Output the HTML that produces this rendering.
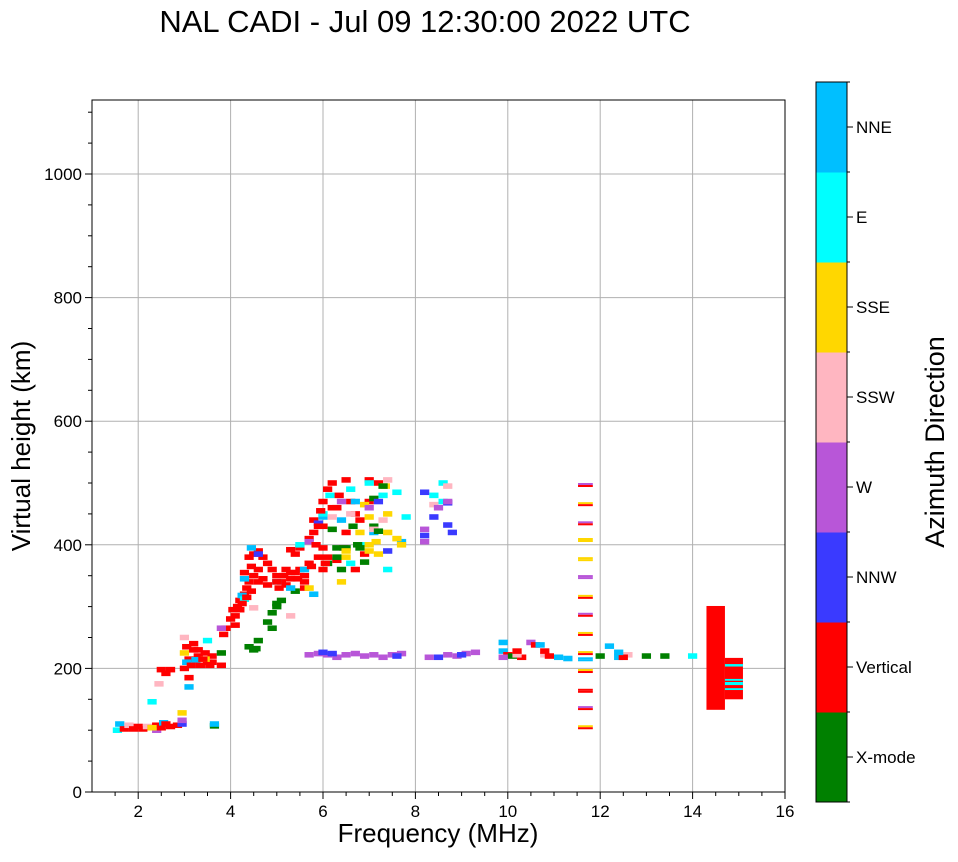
<!DOCTYPE html>
<html><head><meta charset="utf-8"><style>
body{margin:0;background:#fff;}
svg text{font-family:"Liberation Sans","DejaVu Sans",sans-serif;fill:#000;}
</style></head><body>
<svg id="chart" width="958" height="857" viewBox="0 0 958 857" xmlns="http://www.w3.org/2000/svg">
<text x="425" y="32" font-size="31" text-anchor="middle">NAL CADI - Jul 09 12:30:00 2022 UTC</text>
<g id="grid"></g>
<g id="marks"></g>
<rect x="92" y="100" width="693" height="692" fill="none" stroke="#000" stroke-width="1"/>
<g id="axes"></g>
<text x="438" y="842" font-size="26" text-anchor="middle">Frequency (MHz)</text>
<text transform="translate(30,446) rotate(-90)" font-size="26" text-anchor="middle">Virtual height (km)</text>
<g id="cbar"></g>
<text transform="translate(944,442) rotate(-90)" font-size="27" text-anchor="middle">Azimuth Direction</text>
</svg>
<script>
const categories=["X-mode","Vertical","NNW","W","SSW","SSE","E","NNE"];
const catColors=["#008000","#ff0000","#3a3aff","#b856d8","#ffb6c1","#ffd700","#00ffff","#00bfff"];
const xTicks=[2,4,6,8,10,12,14,16];
const yTicks=[0,200,400,600,800,1000];
// scattered echoes: frequency (MHz), height (km), category index
const freqs=[1.55,1.6,1.7,1.8,1.9,2.0,2.1,2.2,2.3,2.3,2.4,2.4,2.5,2.55,2.6,2.7,2.85,2.95,2.95,2.95,2.3,3.65,3.65,
2.5,2.7,2.6,3.0,3.1,3.1,3.3,3.45,3.5,3.2,3.35,3.6,3.6,3.05,3.2,3.8,3.05,3.25,3.1,2.45,3.0,3.5,3.0,3.45,
3.8,4.4,4.55,4.6,4.8,4.9,5.0,5.1,4.9,5.4,
3.85,3.9,4.0,4.05,4.15,4.2,4.3,4.35,4.4,4.3,4.45,4.4,4.5,4.6,4.7,4.8,4.9,5.0,5.1,5.2,5.3,5.4,5.5,5.6,5.2,5.4,5.5,5.3,5.7,5.8,5.9,6.0,6.0,6.0,5.8,6.0,6.1,6.2,6.3,6.35,6.5,6.6,6.7,6.8,7.0,7.2,7.0,6.5,6.45,6.9,6.3,6.7,4.1,4.8,4.6,5.05,5.6,
4.45,4.3,4.25,5.6,5.3,5.8,6.0,6.4,7.1,6.7,5.0,7.7,
4.3,5.5,6.15,6.0,6.6,7.3,7.0,6.9,7.6,7.4,6.6,7.8,8.6,8.4,8.6,
5.7,6.5,6.8,6.9,7.0,7.15,7.2,7.4,7.4,7.7,7.35,7.0,6.4,
6.1,6.3,6.4,6.75,6.65,6.9,7.1,7.3,6.5,6.2,7.1,4.5,
4.5,5.3,6.6,7.4,7.1,7.3,8.4,8.7,6.2,
8.2,8.2,8.4,8.7,8.7,8.8,7.4,5.9,7.2,4.6,
8.2,8.2,8.5,8.7,6.4,7.0,3.8,5.7,
5.7,5.9,6.1,6.3,6.5,6.7,6.9,7.1,7.3,7.5,7.7,8.3,8.7,8.9,9.1,9.3,6.0,6.2,7.6,8.5,9.0,
9.9,9.9,10.0,10.1,10.3,10.5,10.6,10.8,10.9,11.1,11.3,10.7,10.8,9.9,10.2,10.2,12.0,12.2,12.4,12.6,12.5,13.0,13.4,12.4,14.0,
3.3,3.4,3.15,3.55,4.1,4.2,4.25,4.5,4.6,4.7,5.0,5.15,5.3,5.45,5.7,5.75,5.6,5.9,5.85,6.1,6.05,6.2,5.95,4.35,4.45,
5.0,6.3,6.8,7.2,7.6,7.0,6.5];
const heights=[100,110,102,108,102,106,102,106,104,146,108,100,104,112,110,106,108,110,116,128,104,107,110,
198,198,192,200,185,215,220,225,210,230,205,210,220,235,240,205,210,214,170,175,250,245,225,215,
225,235,232,245,275,290,305,310,265,325,
255,265,280,295,300,310,320,330,340,355,365,380,385,390,380,370,360,350,340,335,345,355,360,350,360,385,395,392,410,420,380,360,395,430,440,470,490,500,460,480,505,470,450,440,505,500,470,420,395,385,375,360,270,335,340,330,330,
395,345,318,360,330,320,445,440,420,470,340,405,
312,400,480,450,490,480,500,400,485,360,370,445,500,480,470,
330,380,420,465,445,405,385,450,420,400,495,390,340,
370,380,360,400,430,372,430,495,395,425,475,230,
298,285,450,505,425,440,465,495,445,
485,415,445,468,432,420,390,435,470,385,
425,405,460,470,470,460,265,405,
222,224,222,218,222,224,220,222,218,222,224,218,222,220,224,226,226,224,220,218,222,
242,228,222,220,218,242,238,222,220,218,216,238,228,218,222,228,220,236,218,222,218,220,220,226,220,
230,215,205,205,285,295,305,350,360,345,340,350,355,345,370,365,340,430,400,380,370,460,455,315,325,
300,395,395,422,410,400,390];
const cats=[6,7,1,4,1,1,1,4,1,6,1,3,1,7,1,1,1,2,3,5,5,0,7,
1,1,1,1,1,1,1,1,1,1,1,1,1,1,1,1,7,7,7,4,4,6,5,5,
0,0,0,0,0,0,0,0,0,0,
1,1,1,1,1,1,1,1,1,1,1,1,1,1,1,1,1,1,1,1,1,1,1,1,1,1,1,1,1,1,1,1,1,1,1,1,1,1,1,1,1,1,1,1,1,1,1,1,1,1,1,1,1,1,1,1,1,
7,7,7,7,7,7,7,7,7,7,7,7,
6,6,6,6,6,6,6,6,6,6,6,6,6,6,6,
5,5,5,5,5,5,5,5,5,5,5,5,5,
0,0,0,0,0,0,0,0,0,0,0,0,
4,4,4,4,4,4,4,4,4,
2,2,2,2,2,2,2,2,2,2,
3,3,3,3,3,3,3,3,
3,3,3,3,3,3,3,3,3,3,3,3,3,3,3,3,2,2,2,2,2,
7,7,1,0,1,3,1,4,1,7,7,7,1,3,4,1,0,7,7,4,1,0,0,7,6,
1,1,1,1,1,1,1,1,1,1,1,1,1,1,1,1,1,1,1,1,1,1,1,1,1,
0,0,0,0,5,5,5];
// echo column at 11.7 MHz
const colHeights=[500,469,438,411,380,351,319,290,259,228,218,199,167,139,108];
const colCats=[1,1,1,5,5,3,1,1,1,1,7,1,1,1,1];
const colTopCats=[3,5,3,5,5,3,5,3,5,5,7,5,1,3,5];
// solid blocks: f0,f1,h0,h1,category
const blkF0=[14.3,14.7,14.3,14.7,14.7,14.7,14.7];
const blkF1=[14.7,15.09,14.7,15.09,15.09,15.09,15.09];
const blkH0=[133,150,202,203,165,173,180];
const blkH1=[301,217,190,207,168,178,183];
const blkCats=[1,1,-1,6,6,6,6];

const NS="http://www.w3.org/2000/svg";
const X=f=>92+(f-1)*(693/15);
const Y=h=>792-h*0.618;
function mk(tag,attrs,parent){const e=document.createElementNS(NS,tag);for(const k in attrs)e.setAttribute(k,attrs[k]);parent.appendChild(e);return e;}
const grid=document.getElementById('grid'),marks=document.getElementById('marks'),axes=document.getElementById('axes'),cbar=document.getElementById('cbar');
xTicks.forEach(t=>{
  const x=X(t);
  if(t<16){const l=mk('line',{x1:x,x2:x,y1:100,y2:792,stroke:'#b0b0b0','stroke-width':1},grid);
  
  }
  mk('line',{x1:x,x2:x,y1:792,y2:799,stroke:'#000'},axes);
  const tx=mk('text',{x:x,y:817,'font-size':17,'text-anchor':'middle'},axes);tx.textContent=t;
  
  
});
for(let f=1.5;f<16;f+=0.5){if(f%2!==0)mk('line',{x1:X(f),x2:X(f),y1:792,y2:796,stroke:'#000'},axes);}
yTicks.forEach(t=>{
  const y=Y(t);
  if(t>0){const l=mk('line',{x1:92,x2:785,y1:y,y2:y,stroke:'#b0b0b0','stroke-width':1},grid);
  
  }
  mk('line',{x1:85,x2:92,y1:y,y2:y,stroke:'#000'},axes);
  const tx=mk('text',{x:82,y:y+6,'font-size':17,'text-anchor':'end'},axes);tx.textContent=t;
  
  
});
for(let h=50;h<1120;h+=50){if(h%200!==0)mk('line',{x1:88,x2:92,y1:Y(h),y2:Y(h),stroke:'#000'},axes);}
const CW=0.2,CH=9;
freqs.forEach((f,i)=>{
  const r=mk('rect',{x:X(f-CW/2),y:Y(heights[i]+CH/2),width:X(CW)-X(0),height:CH*0.618,fill:catColors[cats[i]]},marks);
  
  
});
colHeights.forEach((h,i)=>{
  const r=mk('rect',{x:X(11.52),y:Y(h),width:X(11.84)-X(11.52),height:2,fill:catColors[colTopCats[i]]},marks);
  
  
  const r2=mk('rect',{x:X(11.52),y:Y(h)+2,width:X(11.84)-X(11.52),height:2,fill:catColors[colCats[i]]},marks);
  
  
});
blkF0.forEach((f,i)=>{
  const r=mk('rect',{x:X(f),y:Y(blkH1[i]),width:X(blkF1[i])-X(f),height:Y(blkH0[i])-Y(blkH1[i]),fill:blkCats[i]<0?'#fff':catColors[blkCats[i]]},marks);
  
  
});
// colorbar
const cbTop=82,cbH=720,bin=cbH/8;
categories.forEach((c,i)=>{
  const y=cbTop+cbH-(i+1)*bin;
  const r=mk('rect',{x:816,y:y,width:31,height:bin+0.5,fill:catColors[i]},cbar);
  
  
  mk('line',{x1:847,x2:853,y1:y+bin/2,y2:y+bin/2,stroke:'#000'},cbar);
  const t=mk('text',{x:856,y:y+bin/2+6,'font-size':17},cbar);t.textContent=c;
  
  
});
for(let i=0;i<=8;i++){mk('line',{x1:847,x2:850,y1:cbTop+i*bin,y2:cbTop+i*bin,stroke:'#000'},cbar);}
mk('rect',{x:816,y:cbTop,width:31,height:cbH,fill:'none',stroke:'#000','stroke-width':1},cbar);
</script>
</body></html>
